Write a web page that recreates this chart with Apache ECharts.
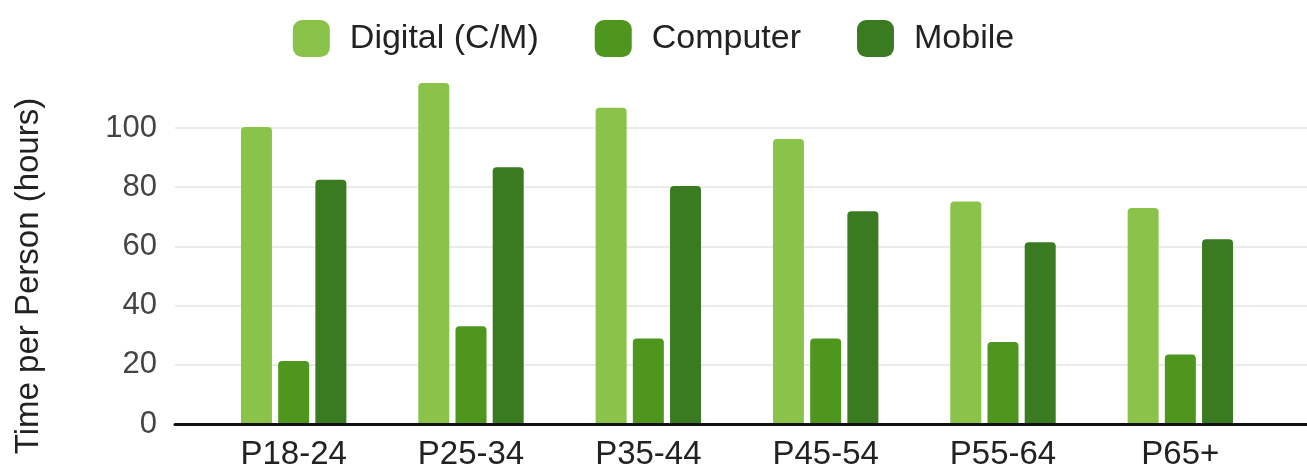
<!DOCTYPE html>
<html>
<head>
<meta charset="utf-8">
<title>Time per Person by Age Group</title>
<script src="https://cdn.jsdelivr.net/npm/echarts@6/dist/echarts.min.js"></script>
<style>
  html, body { margin: 0; padding: 0; background: #ffffff; }
  #chart { width: 1307px; height: 475px; }
</style>
</head>
<body>
<div id="chart"></div>
<script>
// Age groups along the x axis
const categories = ['P18-24', 'P25-34', 'P35-44', 'P45-54', 'P55-64', 'P65+'];

// Hours per person for each age group
const digitalHours  = [100.3, 115.2, 106.8, 96.3, 75.2, 73.0];
const computerHours = [21.3, 33.0, 28.9, 28.9, 27.7, 23.5];
const mobileHours   = [82.5, 86.7, 80.4, 71.9, 61.4, 62.4];

// Value-axis ticks
const yTicks = [0, 20, 40, 60, 80, 100];

const seriesNames = ['Digital (C/M)', 'Computer', 'Mobile'];
const seriesColors = ['#8bc34a', '#4f961f', '#3a7a20'];

const FONT = '"Liberation Sans", Arial, sans-serif';
const PLOT_BOTTOM = 51;               // distance of the zero line from the bottom edge
const TICK_TOP = 128;                 // pixel row of the highest tick
const pxPerUnit = (475 - PLOT_BOTTOM - TICK_TOP) / (yTicks[yTicks.length - 1] - yTicks[0]);
const BAR_MAX = 120;                  // headroom above the last tick for the tallest bars

const chart = echarts.init(document.getElementById('chart'), null, { renderer: 'canvas' });

function barSeries(name, data, color) {
  return {
    name: name,
    type: 'bar',
    xAxisIndex: 0,
    yAxisIndex: 0,
    data: data,
    barWidth: 31,
    barGap: '20%',
    itemStyle: { color: color, borderRadius: [4, 4, 0, 0] },
    emphasis: { disabled: true },
    z: 2
  };
}

chart.setOption({
  animation: false,
  backgroundColor: '#ffffff',
  color: seriesColors,
  textStyle: { fontFamily: FONT },
  legend: {
    data: seriesNames,
    top: 15,
    left: 'center',
    itemWidth: 37,
    itemHeight: 37,
    itemGap: 56,
    icon: 'roundRect',
    textStyle: { fontSize: 34, color: '#222222', fontFamily: FONT, padding: [0, 0, 0, 15] }
  },
  grid: [
    // bars
    { left: 205, right: 38, bottom: PLOT_BOTTOM, height: BAR_MAX * pxPerUnit },
    // gridlines, tick labels and baseline
    { left: 175, right: 0, top: TICK_TOP, bottom: PLOT_BOTTOM }
  ],
  xAxis: [
    {
      type: 'category',
      gridIndex: 0,
      data: categories,
      axisLine: { show: false },
      axisTick: { show: false },
      axisLabel: { fontSize: 33, color: '#222222', margin: 14, fontFamily: FONT },
      splitLine: { show: false }
    },
    {
      type: 'value',
      gridIndex: 1,
      min: 0,
      max: 1,
      axisLine: { show: true, lineStyle: { color: '#111111', width: 3 } },
      axisTick: { show: false },
      axisLabel: { show: false },
      splitLine: { show: false },
      z: 5
    }
  ],
  yAxis: [
    {
      type: 'value',
      gridIndex: 0,
      min: 0,
      max: BAR_MAX,
      show: false,
      splitLine: { show: false }
    },
    {
      type: 'value',
      gridIndex: 1,
      min: yTicks[0],
      max: yTicks[yTicks.length - 1],
      interval: yTicks[1] - yTicks[0],
      name: 'Time per Person (hours)',
      nameLocation: 'middle',
      nameGap: 130,
      nameTextStyle: { fontSize: 33, color: '#222222', fontFamily: FONT },
      axisLine: { show: false },
      axisTick: { show: false },
      axisLabel: { fontSize: 31, color: '#444444', margin: 18, fontFamily: FONT },
      splitLine: { show: true, lineStyle: { color: '#ebebeb', width: 2 } }
    }
  ],
  series: [
    barSeries(seriesNames[0], digitalHours, seriesColors[0]),
    barSeries(seriesNames[1], computerHours, seriesColors[1]),
    barSeries(seriesNames[2], mobileHours, seriesColors[2])
  ]
});
</script>
</body>
</html>
